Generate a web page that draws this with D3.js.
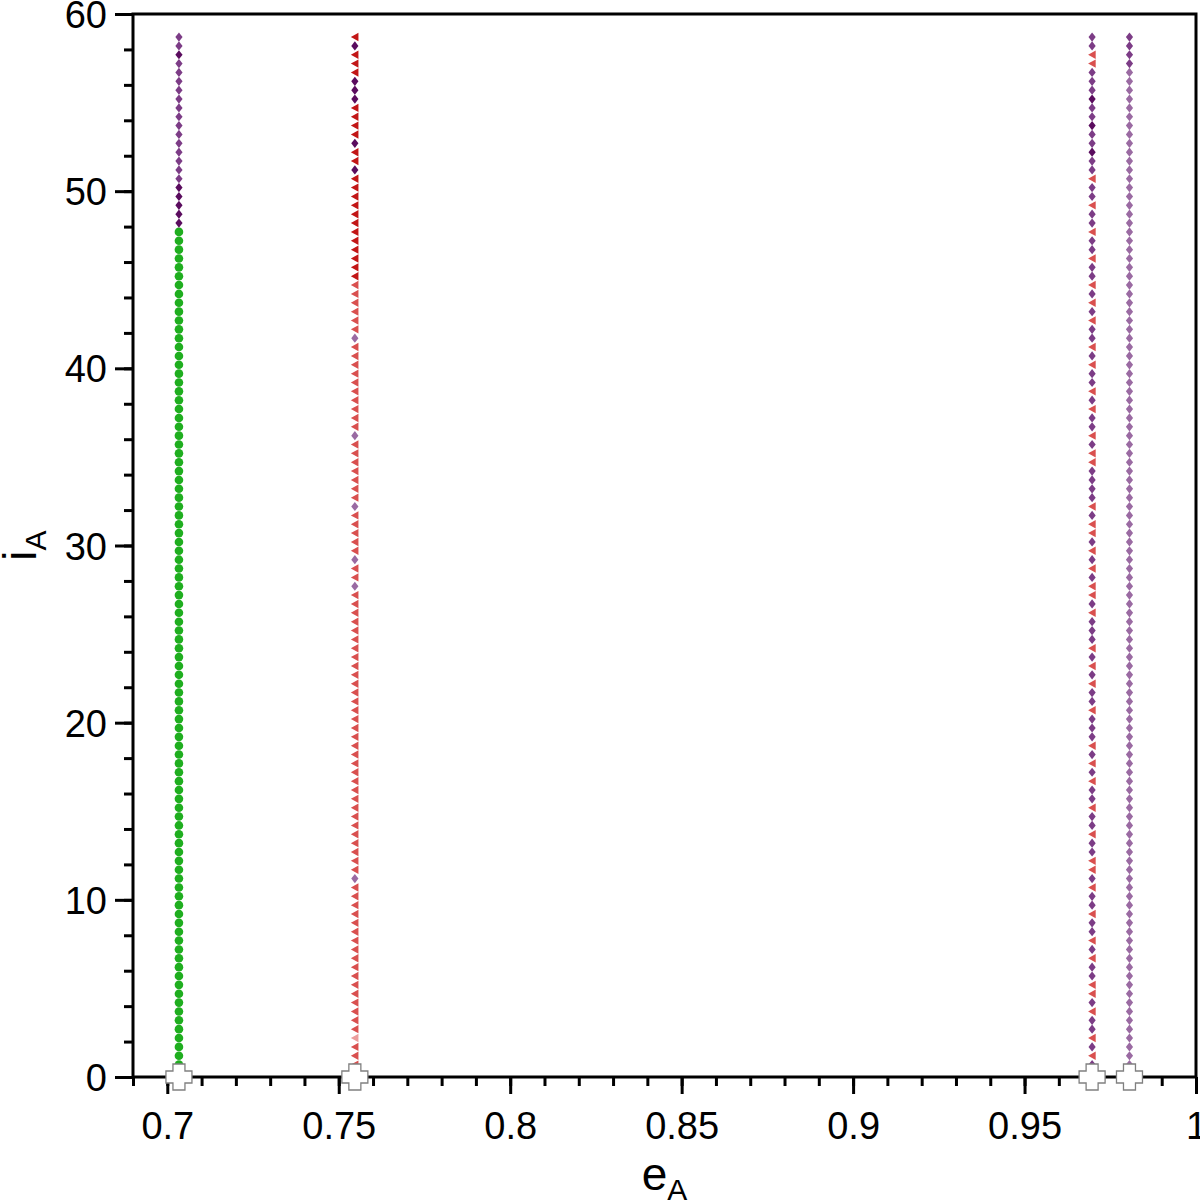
<!DOCTYPE html>
<html><head><meta charset="utf-8">
<script src="https://cdn.jsdelivr.net/npm/d3@7"></script>
<style>body{margin:0;background:#fff}svg{display:block}text{font-family:"Liberation Sans",Arial,sans-serif}</style>
</head><body><svg id="c" width="1200" height="1202"></svg>
<script>
// inclination samples (bottom to top), shared by all four columns
const iValues = [
 0.2,0.7,1.2,1.7,2.2,2.7,3.2,3.7,4.2,4.7,
 5.2,5.7,6.2,6.7,7.2,7.7,8.2,8.7,9.2,9.7,
 10.2,10.7,11.2,11.7,12.2,12.7,13.2,13.7,14.2,14.7,
 15.2,15.7,16.2,16.7,17.2,17.7,18.2,18.7,19.2,19.7,
 20.2,20.7,21.2,21.7,22.2,22.7,23.2,23.7,24.2,24.7,
 25.2,25.7,26.2,26.7,27.2,27.7,28.2,28.7,29.2,29.7,
 30.2,30.7,31.2,31.7,32.2,32.7,33.2,33.7,34.2,34.7,
 35.2,35.7,36.2,36.7,37.2,37.7,38.2,38.7,39.2,39.7,
 40.2,40.7,41.2,41.7,42.2,42.7,43.2,43.7,44.2,44.7,
 45.2,45.7,46.2,46.7,47.2,47.7,48.2,48.7,49.2,49.7,
 50.2,50.7,51.2,51.7,52.2,52.7,53.2,53.7,54.2,54.7,
 55.2,55.7,56.2,56.7,57.2,57.7,58.2,58.7
];
// eccentricity of each column
const columnE = [0.7034, 0.7547, 0.9697, 0.9806];
// marker class per sample (bottom to top); G green circle, P/M/L purple diamonds (dark/mid/light), R/r/p red triangles (dark/mid/pink)
const col1Types = "GGGGGGGGGG GGGGGGGGGG GGGGGGGGGG GGGGGGGGGG GGGGGGGGGG GGGGGGGGGG GGGGGGGGGG GGGGGGGGGG GGGGGGGGGG GGGGGGPPPP PMMMMMMMMM MMMMMPMM";
const col2Types = "rrrrprrrrr rrrrrrrrrr rrLrrrrrrr rrrrrrrrrr rrrrrrrrrr rrrrrLrrLr rrrrLrrrrr rrLrrrrrrr rrrLrrrrrr RRRRRRRRRR RRPRRPRRRR PPPRRRPR";
const col3Types = "MMrMrMMrMr rMMrMrMMrM MrMrrMMrMM rMMrMrMrMM MrMMrMrMrM MMrMrrMrMr MrrMrMMMMr rMrMMrMrMM rMrMMrMrMr MMrMMrMMrM MrMMPMMPMM PMMMrrMM";
const col4Types = "LLLLLLLLLL LLLLLLLLLL LLLLLLLLLL LLLLLLLLLL LLLLLLLLLL LLLLLLLLLL LLLLLLLLLL LLLLLLLLLL LLLLLLLLLL LLLLLLLLLL LLLLLLLLLL LLLLMMMM";
// initial positions (crosses)
const startE = [0.7034, 0.7547, 0.9697, 0.9806];
const startI = [0, 0, 0, 0];
// ticks
const xMajorTicks = [0.7, 0.75, 0.8, 0.85, 0.9, 0.95, 1.0];
const xTickLabels = ["0.7", "0.75", "0.8", "0.85", "0.9", "0.95", "1"];
const yMajorTicks = [0, 10, 20, 30, 40, 50, 60];
const yTickLabels = ["0", "10", "20", "30", "40", "50", "60"];

const colors = {G:"#1fae1f", P:"#5a0c5e", M:"#7c3c86", L:"#9a6aa2", R:"#c21616", r:"#d9504f", p:"#eb9d9c"};

const svg = d3.select("#c");
const L = 133, R = 1196, T = 14, B = 1077;
const x = d3.scaleLinear().domain([0.69, 1.0]).range([L, R]);
const y = d3.scaleLinear().domain([0, 60]).range([B, T]);

// markers
const shapes = {
  G: "M0,-4.3A4.3,4.3 0 1,1 0,4.3A4.3,4.3 0 1,1 0,-4.3Z",
  D: "M0,-4.6L3.6,0L0,4.6L-3.6,0Z",
  T: "M-4,0L3.6,-4.2L3.6,4.2Z"
};
function shapeOf(t){ return t === "G" ? shapes.G : ("PML".includes(t) ? shapes.D : shapes.T); }
const cols = [col1Types, col2Types, col3Types, col4Types].map(s => s.replace(/\s+/g, ""));
const pts = [];
cols.forEach((s, c) => {
  iValues.forEach((iv, k) => { pts.push({e: columnE[c], i: iv, t: s[k]}); });
});
svg.append("g").selectAll("path").data(pts).join("path")
  .attr("d", d => shapeOf(d.t))
  .attr("transform", d => `translate(${x(d.e)},${y(d.i)})`)
  .attr("fill", d => colors[d.t]);

// axes
const minorX = d3.range(69, 101).map(v => v / 100);
const minorY = d3.range(0, 61, 2);
function styleAxis(g){ g.select(".domain").remove(); g.selectAll("line").attr("stroke","#000").attr("stroke-width",3); }
svg.append("g").attr("transform",`translate(0,${B})`).call(d3.axisBottom(x).tickValues(minorX).tickSize(9).tickFormat("")).call(styleAxis);
const xa = svg.append("g").attr("transform",`translate(0,${B})`).call(d3.axisBottom(x).tickValues(xMajorTicks).tickSize(17).tickFormat((d,k)=>xTickLabels[k])).call(styleAxis);
xa.selectAll("text").attr("y",35).attr("dy","0.71em").attr("font-size",38).attr("fill","#000").attr("font-family","Liberation Sans, Arial, sans-serif");
svg.append("g").attr("transform",`translate(${L},0)`).call(d3.axisLeft(y).tickValues(minorY).tickSize(9).tickFormat("")).call(styleAxis);
const ya = svg.append("g").attr("transform",`translate(${L},0)`).call(d3.axisLeft(y).tickValues(yMajorTicks).tickSize(18).tickFormat((d,k)=>yTickLabels[k])).call(styleAxis);
ya.selectAll("text").attr("x",-26).attr("dy","0.355em").attr("font-size",38).attr("fill","#000").attr("font-family","Liberation Sans, Arial, sans-serif");

// frame
svg.append("rect").attr("x",L).attr("y",T).attr("width",R-L).attr("height",B-T)
  .attr("fill","none").attr("stroke","#000").attr("stroke-width",3);

// start crosses
const plus = "M-6,-13H6V-6H13V6H6V13H-6V6H-13V-6H-6Z";
svg.append("g").selectAll("path").data(startE.map((e,k)=>({e, i:startI[k]}))).join("path")
  .attr("d", plus).attr("transform", d => `translate(${x(d.e)},${y(d.i)})`)
  .attr("fill","#fff").attr("stroke","#808080").attr("stroke-width",1.3);

// axis titles
const xt = svg.append("text").attr("x",(L+R)/2).attr("y",1190).attr("text-anchor","middle").attr("font-size",46).attr("fill","#000");
xt.append("tspan").text("e");
xt.append("tspan").attr("font-size",30).attr("dy",10).text("A");
const yt = svg.append("text").attr("transform",`translate(36,${(T+B)/2}) rotate(-90)`).attr("text-anchor","middle").attr("font-size",46).attr("fill","#000");
yt.append("tspan").text("i");
yt.append("tspan").attr("font-size",30).attr("dy",10).text("A");
</script></body></html>
